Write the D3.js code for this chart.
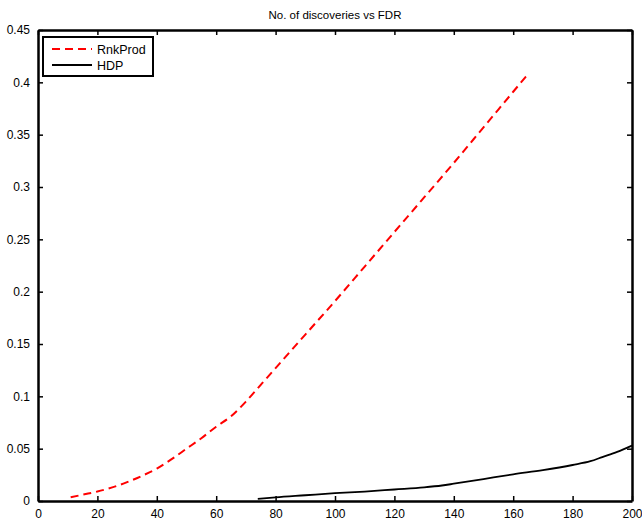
<!DOCTYPE html>
<html>
<head>
<meta charset="utf-8">
<script src="https://cdn.jsdelivr.net/npm/d3@7"></script>
<style>
  html, body { margin: 0; padding: 0; background: #fff; }
  svg text { font-family: "Liberation Sans", Arial, sans-serif; fill: #000; }
</style>
</head>
<body>
<svg id="chart" width="642" height="520"></svg>
<script>
// Number of discoveries (x) against false discovery rate (y)
const rnkProdX = [11, 15, 20, 25, 30, 35, 40, 45, 50, 55, 60, 65, 70, 75, 80, 90, 100, 110, 120, 130, 140, 150, 160, 165];
const rnkProdY = [0.0035, 0.006, 0.009, 0.013, 0.018, 0.024, 0.031, 0.040, 0.050, 0.060, 0.071, 0.081, 0.095, 0.111, 0.127, 0.159, 0.191, 0.224, 0.257, 0.290, 0.323, 0.357, 0.391, 0.408];
const hdpX = [74, 80, 90, 100, 110, 120, 130, 136, 140, 150, 160, 170, 180, 186, 190, 195, 200];
const hdpY = [0.002, 0.0035, 0.0055, 0.0075, 0.009, 0.011, 0.013, 0.0148, 0.0165, 0.021, 0.0255, 0.0295, 0.0344, 0.038, 0.042, 0.047, 0.053];
const xTicks = [0, 20, 40, 60, 80, 100, 120, 140, 160, 180, 200];
const yTicks = [0, 0.05, 0.1, 0.15, 0.2, 0.25, 0.3, 0.35, 0.4, 0.45];
const seriesNames = ["RnkProd", "HDP"];
const chartTitle = "No. of discoveries vs FDR";

const svg = d3.select("#chart");
const plotLeft = 38, plotRight = 632, plotTop = 30, plotBottom = 501;

const x = d3.scaleLinear().domain([0, 200]).range([plotLeft, plotRight]);
const y = d3.scaleLinear().domain([0, 0.45]).range([plotBottom, plotTop]);

// title
svg.append("text")
  .attr("x", (plotLeft + plotRight) / 2).attr("y", 19)
  .attr("text-anchor", "middle").attr("font-size", 11.5)
  .text(chartTitle);

// axes with inward ticks on all four sides
const fmtY = d => d === 0 ? "0" : String(+d.toFixed(2));
const axB = svg.append("g").attr("transform", `translate(0,${plotBottom})`)
  .call(d3.axisBottom(x).tickValues(xTicks).tickSizeInner(-5).tickSizeOuter(0).tickPadding(8).tickFormat(d3.format("d")));
const axT = svg.append("g").attr("transform", `translate(0,${plotTop})`)
  .call(d3.axisTop(x).tickValues(xTicks).tickSizeInner(-5).tickSizeOuter(0).tickFormat(""));
const axL = svg.append("g").attr("transform", `translate(${plotLeft},0)`)
  .call(d3.axisLeft(y).tickValues(yTicks).tickSizeInner(-5).tickSizeOuter(0).tickPadding(8).tickFormat(fmtY));
const axR = svg.append("g").attr("transform", `translate(${plotRight},0)`)
  .call(d3.axisRight(y).tickValues(yTicks).tickSizeInner(-5).tickSizeOuter(0).tickFormat(""));

[axB, axT, axL, axR].forEach(g => {
  g.select(".domain").attr("stroke", "#000").attr("stroke-width", 2.5);
  g.selectAll(".tick line").attr("stroke", "#000").attr("stroke-width", 1.5);
  g.selectAll(".tick text").attr("font-size", 12).attr("font-family", "Liberation Sans, Arial, sans-serif").attr("fill", "#000");
});

const line = d3.line().x(d => x(d[0])).y(d => y(d[1])).curve(d3.curveMonotoneX);

svg.append("path")
  .datum(d3.zip(rnkProdX, rnkProdY))
  .attr("fill", "none").attr("stroke", "#ff0000").attr("stroke-width", 2)
  .attr("stroke-dasharray", "8,5")
  .attr("d", line);

svg.append("path")
  .datum(d3.zip(hdpX, hdpY))
  .attr("fill", "none").attr("stroke", "#000").attr("stroke-width", 1.8)
  .attr("d", line);

// legend
const lg = svg.append("g");
lg.append("rect").attr("x", 43).attr("y", 37).attr("width", 110).attr("height", 39)
  .attr("fill", "#fff").attr("stroke", "#000").attr("stroke-width", 2);
const legendStyles = [
  { color: "#ff0000", dash: "8,5", w: 2 },
  { color: "#000", dash: null, w: 1.8 }
];
seriesNames.forEach((name, i) => {
  const yy = 49 + i * 16;
  lg.append("line").attr("x1", 52).attr("x2", 92).attr("y1", yy).attr("y2", yy)
    .attr("stroke", legendStyles[i].color).attr("stroke-width", legendStyles[i].w)
    .attr("stroke-dasharray", legendStyles[i].dash);
  lg.append("text").attr("x", 97).attr("y", yy + 4.5).attr("font-size", 12.5).text(name);
});
</script>
</body>
</html>
